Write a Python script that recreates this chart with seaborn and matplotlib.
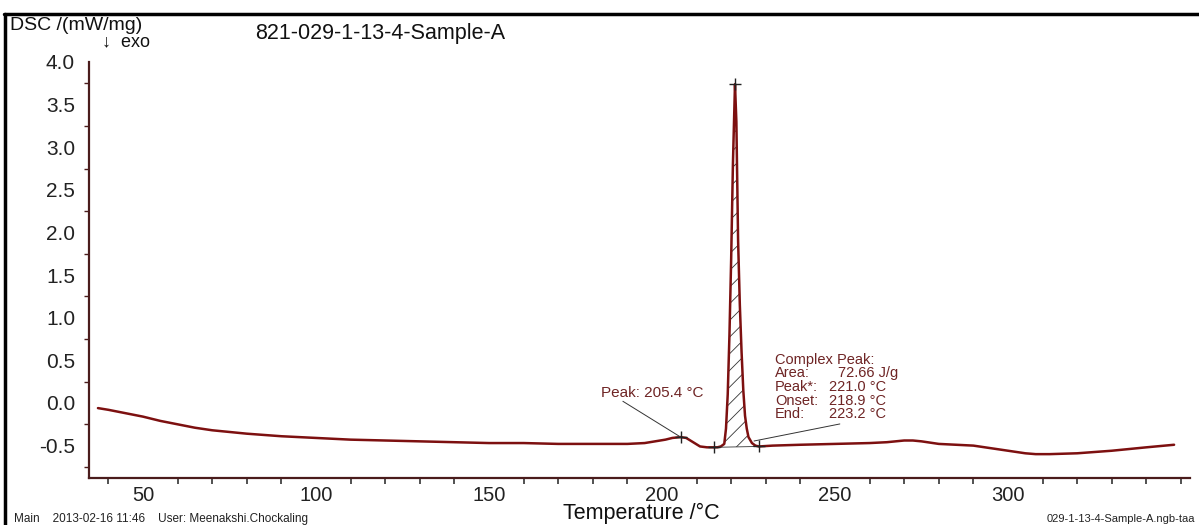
import numpy as np
import pandas as pd
import matplotlib
matplotlib.use("Agg")
import matplotlib.pyplot as plt
from matplotlib.lines import Line2D
from matplotlib.ticker import MultipleLocator
import seaborn as sns

# ---- data ----
temperature = [37, 40, 45, 50, 55, 60, 65, 70, 80, 90, 100, 110, 120, 130, 140,
               150, 160, 170, 180, 190, 195, 198, 201, 203, 205.4, 207, 209, 211,
               213, 215, 216, 217, 218, 218.5, 219, 219.5, 220, 220.5, 221.1,
               221.5, 222, 222.5, 223, 223.5, 224, 224.5, 225, 226, 227, 228,
               232, 240, 250, 260, 265, 270, 272.5, 275, 280, 285, 290, 295, 300,
               305, 308, 312, 320, 330, 340, 348]
dsc = [-0.06, -0.08, -0.12, -0.16, -0.21, -0.25, -0.29, -0.32, -0.36, -0.39,
       -0.41, -0.43, -0.44, -0.45, -0.46, -0.47, -0.47, -0.48, -0.48, -0.48,
       -0.47, -0.45, -0.43, -0.41, -0.40, -0.41, -0.46, -0.51, -0.52, -0.52,
       -0.52, -0.51, -0.48, -0.30, 0.10, 0.80, 1.70, 2.80, 3.74,
       3.30, 1.90, 1.15, 0.60, 0.15, -0.15, -0.30, -0.40, -0.47, -0.50, -0.51,
       -0.50, -0.49, -0.48, -0.47, -0.46, -0.44, -0.44, -0.45, -0.48, -0.49,
       -0.50, -0.53, -0.56, -0.59, -0.60, -0.60, -0.59, -0.56, -0.52, -0.49]

peak_small = (205.4, -0.40)
peak_main = (221.1, 3.74)
integ_start = (215.0, -0.52)
integ_end = (228.0, -0.51)

x_ticks = [50, 100, 150, 200, 250, 300]
y_ticks = [-0.5, 0.0, 0.5, 1.0, 1.5, 2.0, 2.5, 3.0, 3.5, 4.0]

title = "821-029-1-13-4-Sample-A"
complex_labels = ["Complex Peak:", "Area:", "Peak*:", "Onset:", "End:"]
complex_values = ["", "72.66 J/g", "221.0 °C", "218.9 °C", "223.2 °C"]

df = pd.DataFrame({"T": temperature, "DSC": dsc})

# ---- style ----
sns.set_style("white")
plt.rcParams["font.family"] = ["Liberation Sans", "DejaVu Sans"]
plt.rcParams["hatch.linewidth"] = 0.6

spine_col = "#4a1c1c"
curve_col = "#7d1010"
text_red = "#6e2424"

fig = plt.figure(figsize=(11.99, 5.25), dpi=100)
ax = fig.add_axes([0.0742, 0.0895, 0.9183, 0.7925])

sns.lineplot(data=df, x="T", y="DSC", ax=ax, color=curve_col, linewidth=1.8)

# hatched integration area
T = np.array(temperature)
D = np.array(dsc)
mask = (T >= integ_start[0]) & (T <= integ_end[0])
base = np.interp(T[mask], [integ_start[0], integ_end[0]], [integ_start[1], integ_end[1]])
ax.fill_between(T[mask], base, D[mask], facecolor="none", edgecolor="#333333",
                hatch="//", linewidth=0)
ax.plot([integ_start[0], integ_end[0]], [integ_start[1], integ_end[1]],
        color="#333333", linewidth=0.6)

# cross markers
for px, py in [peak_small, peak_main, integ_start, integ_end]:
    ax.plot(px, py, marker="+", color="#222222", markersize=9, mew=1.0)

ax.set_xlim(34.4, 352.6)
ax.set_ylim(-0.88, 4.0)
ax.set_xticks(x_ticks)
ax.set_yticks(y_ticks)
ax.set_yticklabels([f"{v:.1f}" for v in y_ticks])
ax.xaxis.set_minor_locator(MultipleLocator(10))
ax.yaxis.set_minor_locator(MultipleLocator(0.25))
ax.tick_params(axis="y", which="major", direction="out", length=7, width=1.0,
               color=spine_col, labelsize=15, labelcolor="#222222", pad=3)
ax.tick_params(axis="y", which="minor", direction="out", length=3.5, width=1.0,
               color=spine_col, left=True)
ax.tick_params(axis="x", which="major", direction="out", length=4, width=1.2,
               color="#333333", labelsize=14.5, labelcolor="#222222", pad=1.5)
ax.tick_params(axis="x", which="minor", direction="out", length=4, width=1.2,
               color="#333333", bottom=True)
ax.set_xlabel("")
ax.set_ylabel("")
for s in ["top", "right"]:
    ax.spines[s].set_visible(False)
for s in ["left", "bottom"]:
    ax.spines[s].set_color(spine_col)
    ax.spines[s].set_linewidth(1.6)

# annotations
ax.text(182.5, 0.12, "Peak: 205.4 °C", fontsize=11, color=text_red,
        ha="left", va="center")
ax.plot([188.7, peak_small[0]], [0.02, peak_small[1]], color="#333333", lw=0.7)
line_y = [0.505, 0.352, 0.188, 0.023, -0.129]
for lab, val, yy in zip(complex_labels, complex_values, line_y):
    ax.text(232.7, yy, lab, fontsize=10.5, color=text_red, va="center", ha="left")
    if val:
        ax.text(248.3 if lab != "Area:" else 250.9, yy, val, fontsize=10.5,
                color=text_red, va="center", ha="left")
ax.plot([251.4, 226.6], [-0.246, -0.446], color="#333333", lw=0.7)

# figure texts
fig.text(10 / 1199, 1 - 25 / 525, "DSC /(mW/mg)", fontsize=14, color="#111111",
         ha="left", va="center")
fig.text(102 / 1199, 1 - 42 / 525, "↓  exo", fontsize=13, color="#111111",
         ha="left", va="center")
fig.text(255 / 1199, 1 - 33 / 525, title, fontsize=15.5, color="#111111",
         ha="left", va="center")
fig.text(641 / 1199, 1 - 513 / 525, "Temperature /°C", fontsize=15.5, color="#111111",
         ha="center", va="center")
fig.text(14 / 1199, 1 - 519 / 525,
         "Main    2013-02-16 11:46    User: Meenakshi.Chockaling",
         fontsize=8.5, color="#222222", ha="left", va="center")
fig.text(1195 / 1199, 1 - 519 / 525, "029-1-13-4-Sample-A.ngb-taa",
         fontsize=8, color="#222222", ha="right", va="center")

# outer frame
fig.add_artist(Line2D([4 / 1199, 1.0], [1 - 14 / 525, 1 - 14 / 525],
                      transform=fig.transFigure, color="black", linewidth=2.5))
fig.add_artist(Line2D([5 / 1199, 5 / 1199], [0.0, 1 - 14 / 525],
                      transform=fig.transFigure, color="black", linewidth=2.5))

fig.savefig("out.png", dpi=100)
